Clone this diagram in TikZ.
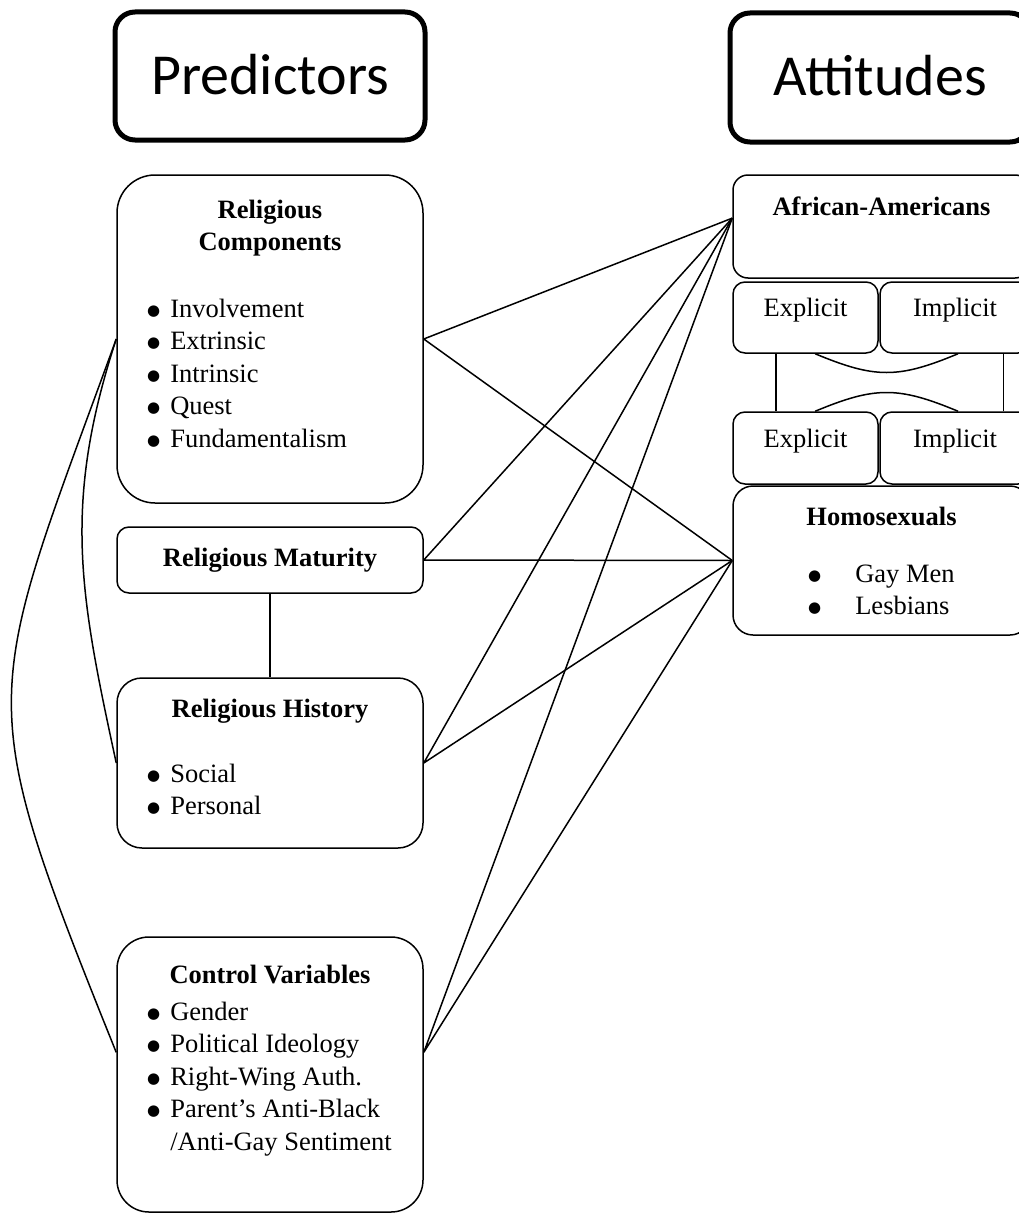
\documentclass[tikz,border=0pt]{standalone}
\usepackage{fontspec}
\setmainfont{Liberation Serif}
\newfontfamily\headfont{Carlito}
\newfontfamily\symfont{DejaVu Sans}
\usetikzlibrary{calc,positioning}
\newcommand\blt{\raisebox{2pt}{\symfont\fontsize{15}{15}\selectfont ●}}

\begin{document}
\begin{tikzpicture}[
    x=1pt, y=-1pt,
    font=\fontsize{26.5}{32.5}\selectfont,
    headbox/.style={draw, line width=5pt, rounded corners=20pt, minimum width=310pt, minimum height=128pt, inner sep=0pt, font=\headfont\fontsize{58}{70}\selectfont, text height=40pt, text depth=4pt},
    panel/.style={draw, line width=1.5pt, minimum width=306pt, inner sep=0pt},
    cell/.style={draw, line width=1.5pt, rounded corners=12pt, minimum height=71pt, inner sep=0pt, text height=18pt, text depth=20pt},
    heading/.style={font=\bfseries\fontsize{26.5}{32.5}\selectfont, align=center, inner sep=0pt},
    items/.style={anchor=base west, inner sep=0pt},
    link/.style={line width=1.5pt}
]
\useasboundingbox (0,0) rectangle (1019,1215);
\clip (0,0) rectangle (1019,1215);

% column headings
\node[headbox] (pred) at (270,76) {Predictors};
\node[headbox, minimum width=300pt, minimum height=129pt] (att) at (880,77.5) {Attitudes};

% predictors
\node[panel, rounded corners=38pt, minimum height=328pt] (relcomp) at (270,339) {};
\node[panel, rounded corners=12pt, minimum height=66pt, font=\bfseries\fontsize{26.5}{32.5}\selectfont] (relmat) at (270,560) {Religious Maturity};
\node[panel, rounded corners=25pt, minimum height=170pt] (relhist) at (270,763) {};
\node[panel, rounded corners=32pt, minimum height=275pt] (ctrlvar) at (270,1074.5) {};

\node[heading] (relcomp-title) at ($(relcomp.north)+(0,54)$) {Religious\\Components};
\node[items] (relcomp-list) at (147,317) {\begin{tabular}[t]{@{}l@{\hspace{10pt}}l@{}}
  \blt & Involvement\\
  \blt & Extrinsic\\
  \blt & Intrinsic\\
  \blt & Quest\\
  \blt & Fundamentalism
\end{tabular}};

\node[heading] (relhist-title) at ($(relhist.north)+(0,34)$) {Religious History};
\node[items] (relhist-list) at (147,782) {\begin{tabular}[t]{@{}l@{\hspace{10pt}}l@{}}
  \blt & Social\\
  \blt & Personal
\end{tabular}};

\node[heading] (ctrlvar-title) at ($(ctrlvar.north)+(0,38)$) {Control Variables};
\node[items] (ctrlvar-list) at (147,1020) {\begin{tabular}[t]{@{}l@{\hspace{10pt}}l@{}}
  \blt & Gender\\
  \blt & Political Ideology\\
  \blt & Right-Wing Auth.\\
  \blt & Parent’s Anti-Black\\
       & /Anti-Gay Sentiment
\end{tabular}};

% attitudes
\node[panel, minimum width=297pt, rounded corners=15pt, minimum height=103pt] (afam) at (881.5,226.5) {};
\node[cell, minimum width=145pt] (expa) at (805.5,317.5) {Explicit};
\node[cell, minimum width=150pt] (impa) at (955,317.5) {Implicit};
\node[cell, minimum width=145pt, minimum height=72pt] (expb) at (805.5,448) {Explicit};
\node[cell, minimum width=150pt, minimum height=72pt] (impb) at (955,448) {Implicit};
\node[panel, minimum width=297pt, rounded corners=20pt, minimum height=149pt] (homo) at (881.5,560.5) {};

\node[heading] (afam-title) at ($(afam.north)+(0,32)$) {African-Americans};
\node[heading] (homo-title) at ($(homo.north)+(0,31)$) {Homosexuals};
\node[items] (homo-list) at (808,582) {\begin{tabular}[t]{@{}l@{\hspace{34pt}}l@{}}
  \blt & Gay Men\\
  \blt & Lesbians
\end{tabular}};

\coordinate (afamin) at ($(afam.north west)!0.42!(afam.south west)$);
\coordinate (ctrlout) at ($(ctrlvar.north east)!0.42!(ctrlvar.south east)$);
\coordinate (ctrlin) at ($(ctrlvar.north west)!0.42!(ctrlvar.south west)$);

\foreach \src in {relcomp.east, relmat.east, relhist.east, ctrlout}
  \draw[link] (\src) -- (afamin) (\src) -- (homo.west);

\draw[link] (relmat.south) -- (relhist.north);
\draw[link] (relcomp.west) .. controls (62,505) and (80,595) .. (relhist.west);
\draw[link] (relcomp.west) .. controls (-17,705) and (-30,689) .. (ctrlin);

% explicit / implicit ties
\coordinate (tiel) at ($(expa.south west)!0.566!(expa.south east)$);
\coordinate (tier) at ($(impa.south west)!0.52!(impa.south east)$);
\coordinate (tiebl) at ($(expb.north west)!0.566!(expb.north east)$);
\coordinate (tiebr) at ($(impb.north west)!0.52!(impb.north east)$);
\draw[link] ($(expa.south west)!0.3!(expa.south east)$) -- ($(expb.north west)!0.3!(expb.north east)$);
\draw[link] ($(impa.south west)!0.82!(impa.south east)$) -- ($(impb.north west)!0.82!(impb.north east)$);
\draw[link] (tiel) .. controls ($(tiel)+(60,25)$) and ($(tier)+(-60,25)$) .. (tier);
\draw[link] (tiebl) .. controls ($(tiebl)+(60,-25)$) and ($(tiebr)+(-60,-25)$) .. (tiebr);
\end{tikzpicture}
\end{document}
